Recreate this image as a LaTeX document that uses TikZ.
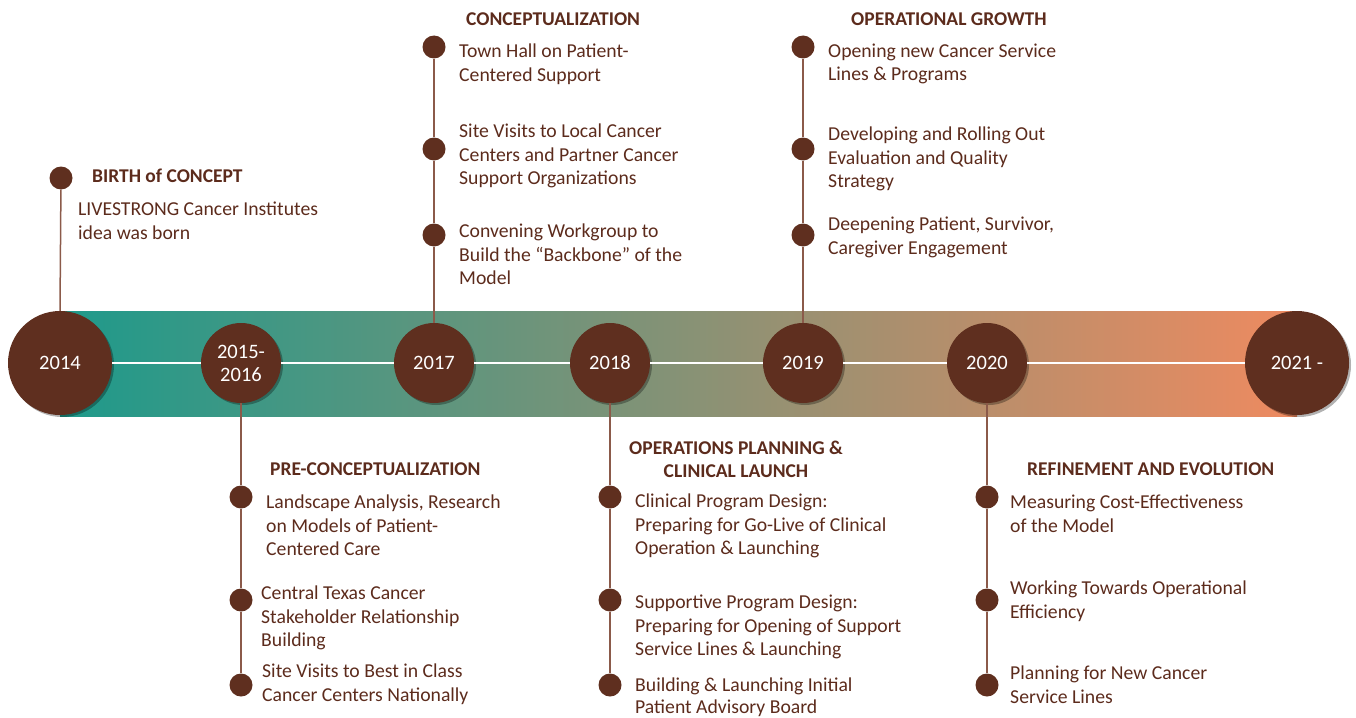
\documentclass[tikz,border=0pt]{standalone}
\usepackage{fontspec}
\setmainfont{Carlito}
\usetikzlibrary{shadows}
\definecolor{circc}{HTML}{5F2F1F}
\definecolor{txtc}{HTML}{5C2B1C}
\definecolor{linec}{HTML}{8B5A4A}
\definecolor{tealc}{HTML}{1E9A8B}
\definecolor{midc}{HTML}{9C8C7C}
\definecolor{orangec}{HTML}{EE8A60}
\tikzset{
  yearc/.style={circle, fill=circc, text=white, inner sep=0pt, align=center,
    font=\fontsize{20.5}{23}\selectfont,
    drop shadow={shadow xshift=2pt, shadow yshift=-2pt, opacity=0.3, fill=black}},
  smallyear/.style={yearc, minimum size=80pt},
  bigyear/.style={yearc, minimum size=104pt},
  tdot/.style={circle, fill=circc, inner sep=0pt, minimum size=23pt},
  vline/.style={draw=linec, line width=1.5pt},
  hline/.style={draw=white, line width=1.2pt},
  item/.style={anchor=north west, inner sep=0pt, align=left, text=txtc,
    font=\fontsize{19.7}{23.2}\selectfont},
  head/.style={anchor=north west, inner sep=0pt, align=left, text=txtc,
    font=\fontsize{19.5}{23}\selectfont\bfseries},
}
\begin{document}
\begin{tikzpicture}[x=1pt, y=-1pt]
\useasboundingbox (0,0) rectangle (1356,717);
% band
\shade[left color=tealc, middle color=midc, right color=orangec] (60,311) rectangle (1297,416);
% year circles
\node[bigyear] (y2014) at (60,363) {2014};
\node[smallyear] (y2015) at (241,363) {2015-\\2016};
\node[smallyear] (y2017) at (434,363) {2017};
\node[smallyear] (y2018) at (610,363) {2018};
\node[smallyear] (y2019) at (803,363) {2019};
\node[smallyear] (y2020) at (987,363) {2020};
\node[bigyear] (y2021) at (1297,363) {2021 -};
% white connectors
\draw[hline] (y2014) -- (y2015);
\draw[hline] (y2015) -- (y2017);
\draw[hline] (y2017) -- (y2018);
\draw[hline] (y2018) -- (y2019);
\draw[hline] (y2019) -- (y2020);
\draw[hline] (y2020) -- (y2021);
% dots
\node[tdot] (a1) at (61,178) {};
\node[tdot] (c1) at (434,47) {};
\node[tdot] (c2) at (434,149) {};
\node[tdot] (c3) at (434,235) {};
\node[tdot] (g1) at (803,47) {};
\node[tdot] (g2) at (803,149) {};
\node[tdot] (g3) at (803,235) {};
\node[tdot] (p1) at (241,497) {};
\node[tdot] (p2) at (241,600) {};
\node[tdot] (p3) at (241,685) {};
\node[tdot] (o1) at (610,497) {};
\node[tdot] (o2) at (610,600) {};
\node[tdot] (o3) at (610,685) {};
\node[tdot] (r1) at (987,497) {};
\node[tdot] (r2) at (987,600) {};
\node[tdot] (r3) at (987,685) {};
% vertical connectors
\draw[vline] (y2014.north) -- (a1);
\draw[vline] (y2017.north) -- (c3);
\draw[vline] (c3) -- (c2);
\draw[vline] (c2) -- (c1);
\draw[vline] (y2019.north) -- (g3);
\draw[vline] (g3) -- (g2);
\draw[vline] (g2) -- (g1);
\draw[vline] (y2015.south) -- (p1);
\draw[vline] (p1) -- (p2);
\draw[vline] (p2) -- (p3);
\draw[vline] (y2018.south) -- (o1);
\draw[vline] (o1) -- (o2);
\draw[vline] (o2) -- (o3);
\draw[vline] (y2020.south) -- (r1);
\draw[vline] (r1) -- (r2);
\draw[vline] (r2) -- (r3);
% texts: 2014
\node[head] (ha) at (92,169) {BIRTH of CONCEPT};
\node[item] (ta1) at (78,202) {LIVESTRONG Cancer Institutes\\idea was born};
% 2017
\node[head] (hc) at (466,13) {CONCEPTUALIZATION};
\node[item] (tc1) at (459,44) {Town Hall on Patient-\\Centered Support};
\node[item] (tc2) at (459,124) {Site Visits to Local Cancer\\Centers and Partner Cancer\\Support Organizations};
\node[item] (tc3) at (459,224) {Convening Workgroup to\\Build the “Backbone” of the\\Model};
% 2019
\node[head] (hg) at (851,13) {OPERATIONAL GROWTH};
\node[item] (tg1) at (828,44) {Opening new Cancer Service\\Lines \& Programs};
\node[item] (tg2) at (828,127) {Developing and Rolling Out\\Evaluation and Quality\\Strategy};
\node[item] (tg3) at (828,217) {Deepening Patient, Survivor,\\Caregiver Engagement};
% 2015-2016
\node[head] (hp) at (270,463) {PRE-CONCEPTUALIZATION};
\node[item] (tp1) at (266,495) {Landscape Analysis, Research\\on Models of Patient-\\Centered Care};
\node[item] (tp2) at (261,586) {Central Texas Cancer\\Stakeholder Relationship\\Building};
\node[item] (tp3) at (262,664) {Site Visits to Best in Class\\Cancer Centers Nationally};
% 2018
\node[head, anchor=north, align=center] (ho) at (736,441) {OPERATIONS PLANNING \&\\CLINICAL LAUNCH};
\node[item] (to1) at (635,494) {Clinical Program Design:\\Preparing for Go-Live of Clinical\\Operation \& Launching};
\node[item] (to2) at (635,595) {Supportive Program Design:\\Preparing for Opening of Support\\Service Lines \& Launching};
\node[item, font=\fontsize{19.7}{22}\selectfont] (to3) at (635,678) {Building \& Launching Initial\\Patient Advisory Board};
% 2020
\node[head] (hr) at (1027,463) {REFINEMENT AND EVOLUTION};
\node[item] (tr1) at (1010,495) {Measuring Cost-Effectiveness\\of the Model};
\node[item] (tr2) at (1010,581) {Working Towards Operational\\Efficiency};
\node[item] (tr3) at (1010,666) {Planning for New Cancer\\Service Lines};
\end{tikzpicture}
\end{document}
